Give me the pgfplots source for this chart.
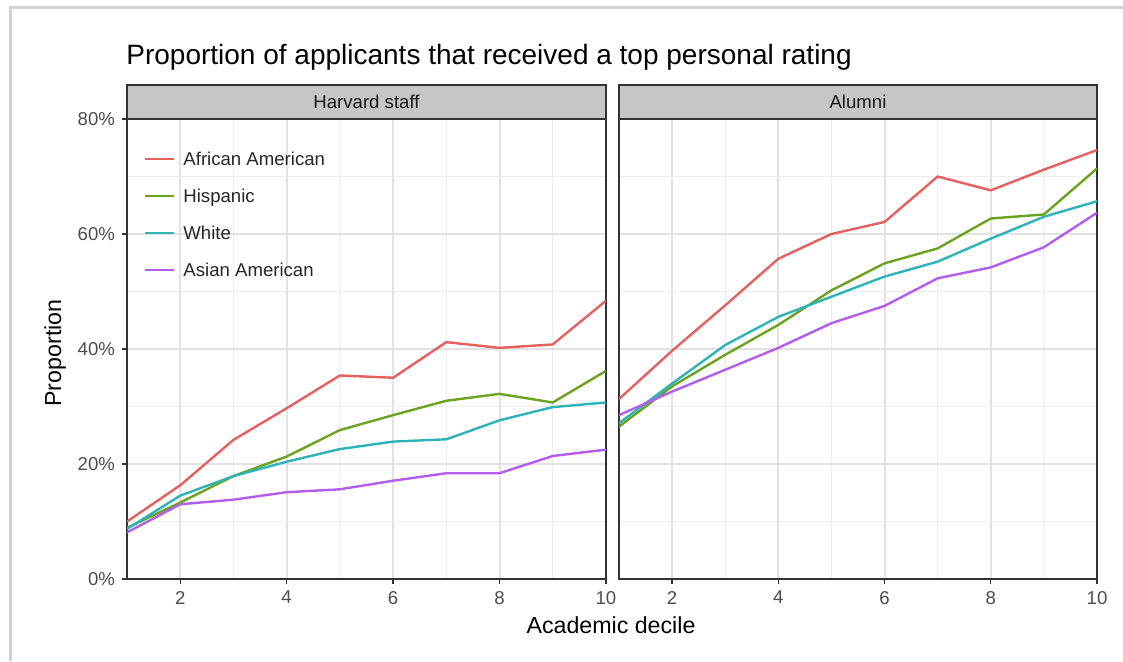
\documentclass[border=0pt]{standalone}
\usepackage{pgfplots}
\pgfplotsset{compat=1.18}
\usepackage{pgfplotstable}
\usepackage{fontspec}
\setmainfont{Liberation Sans}
\definecolor{cAA}{HTML}{E5605E}
\definecolor{cHI}{HTML}{6BA320}
\definecolor{cWH}{HTML}{2DB3B8}
\definecolor{cAS}{HTML}{B25DF0}
\definecolor{stripfill}{HTML}{C6C6C6}
\definecolor{framec}{HTML}{333333}
\definecolor{ticktext}{HTML}{4D4D4D}
\definecolor{majgrid}{HTML}{E2E2E2}
\definecolor{mingrid}{HTML}{EDEDED}
\definecolor{outer}{HTML}{D2D2D2}

\pgfplotstableread{
x AA HI WH AS
1 10.0 8.9 8.7 8.1
2 16.3 13.3 14.5 13.0
3 24.2 17.9 17.9 13.8
4 29.7 21.3 20.4 15.1
5 35.4 25.9 22.6 15.6
6 35.0 28.5 23.9 17.1
7 41.2 31.0 24.3 18.4
8 40.2 32.2 27.6 18.4
9 40.8 30.7 29.9 21.4
10 48.4 36.2 30.7 22.5
}\staff

\pgfplotstableread{
x AA HI WH AS
1 31.3 26.5 27.1 28.5
2 39.7 33.5 34.0 32.6
3 47.6 39.0 40.7 36.4
4 55.7 44.2 45.6 40.2
5 60.0 50.2 49.1 44.5
6 62.1 54.9 52.6 47.5
7 70.0 57.5 55.2 52.3
8 67.6 62.7 59.2 54.2
9 71.2 63.4 63.0 57.7
10 74.6 71.4 65.7 63.7
}\alumni

\pgfplotsset{panel/.style={
  scale only axis, height=230pt,
  xmin=1, xmax=10, ymin=0, ymax=80,
  xtick={2,4,6,8,10}, minor xtick={1,3,5,7,9},
  ytick={0,20,40,60,80}, minor ytick={10,30,50,70},
  grid=both,
  major grid style={majgrid, line width=1pt},
  minor grid style={mingrid, line width=0.6pt},
  axis line style={framec, line width=0.7pt},
  tick align=outside, major tick length=2.5pt, minor tick length=0pt,
  xtick pos=bottom, ytick pos=left,
  tick style={framec, line width=0.7pt},
  tick label style={font=\fontsize{9.3}{11}\selectfont, text=ticktext},
  /pgf/number format/assume math mode=true,
  every axis plot/.append style={line width=1.2pt},
}}

\begin{document}
\begin{tikzpicture}[x=0.5pt, y=-0.5pt]
\path[use as bounding box] (0,0) rectangle (1123,661);
\draw[outer, line width=1.5pt] (10.5,661) -- (10.5,7) -- (1123,7);
\coordinate (L) at (127,579);
\coordinate (R) at (619,579);

\begin{axis}[panel, at={(L)}, anchor=south west, width=239.5pt,
  yticklabels={0\%,20\%,40\%,60\%,80\%},
  legend cell align=left,
  legend style={at={(axis cs:1.32,76.3)}, anchor=north west, draw=none, fill=none,
    inner sep=0pt, outer sep=0pt, font=\fontsize{9.3}{11}\selectfont,
    row sep=0pt, column sep=4pt,
    nodes={inner sep=0pt, text height=12.6pt, text depth=5.9pt, text=black!85}},
  legend image code/.code={\draw[#1, line width=1.2pt] (0pt,0pt) -- (14.5pt,0pt);}]
\addplot[cAA] table[x=x, y=AA]{\staff};
\addplot[cHI] table[x=x, y=HI]{\staff};
\addplot[cWH] table[x=x, y=WH]{\staff};
\addplot[cAS] table[x=x, y=AS]{\staff};
\legend{African American, Hispanic, White, Asian American}
\end{axis}

\begin{axis}[panel, at={(R)}, anchor=south west, width=239pt,
  yticklabels={}, ytick style={draw=none}]
\addplot[cAA] table[x=x, y=AA]{\alumni};
\addplot[cHI] table[x=x, y=HI]{\alumni};
\addplot[cWH] table[x=x, y=WH]{\alumni};
\addplot[cAS] table[x=x, y=AS]{\alumni};
\end{axis}

\draw[fill=stripfill, draw=framec, line width=0.7pt] (127,85) rectangle (606,119);
\draw[fill=stripfill, draw=framec, line width=0.7pt] (619,85) rectangle (1097,119);
\node[font=\fontsize{9.3}{11}\selectfont, text=black!90] at (366.5,102) {Harvard staff};
\node[font=\fontsize{9.3}{11}\selectfont, text=black!90] at (858,102) {Alumni};

\node[anchor=base west, font=\fontsize{14}{16}\selectfont, inner sep=0pt] at (126,64) {Proportion of applicants that received a top personal rating};
\node[font=\fontsize{11.6}{13}\selectfont] at (611,625) {Academic decile};
\node[rotate=90, font=\fontsize{11.6}{13}\selectfont] at (55,353) {Proportion};
\end{tikzpicture}
\end{document}
